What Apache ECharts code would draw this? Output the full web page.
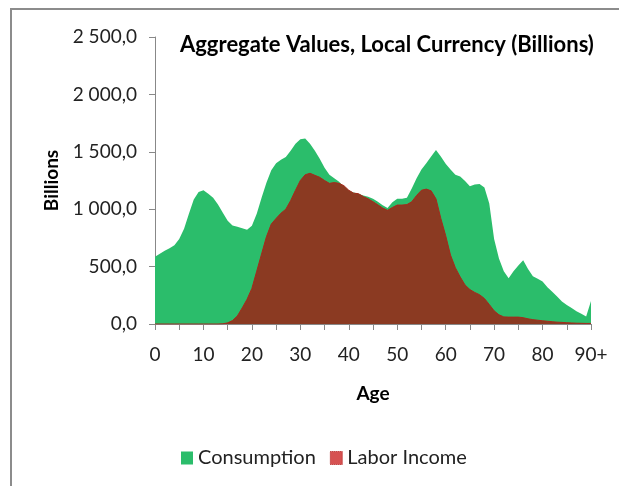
<!DOCTYPE html>
<html><head><meta charset="utf-8">
<script src="https://cdn.jsdelivr.net/npm/echarts@6/dist/echarts.min.js"></script>
<style>html,body{margin:0;padding:0;background:#fff}#c{width:619px;height:486px}</style>
</head><body><div id="c"></div>
<script>
const ages = [];
for (let a = 0; a <= 89; a++) ages.push(String(a));
ages.push('90+');

const consumption = [
  586, 612, 638, 660, 686, 740, 830, 960, 1085, 1150,
  1165, 1135, 1100, 1040, 970, 900, 858, 848, 835, 822,
  855, 960, 1100, 1230, 1340, 1400, 1430, 1455, 1510, 1570,
  1610, 1615, 1570, 1510, 1440, 1360, 1300, 1270, 1240, 1195,
  1160, 1145, 1135, 1120, 1108, 1090, 1065, 1035, 1010, 1060,
  1090, 1092, 1100, 1180, 1270, 1345, 1400, 1460, 1516, 1460,
  1395, 1345, 1300, 1285, 1245, 1200, 1215, 1220, 1190, 1050,
  740, 570, 460, 398, 460, 510, 555, 480, 415, 395,
  370, 320, 280, 240, 195, 165, 140, 110, 90, 65,
  200
];

const laborIncome = [
  0, 0, 0, 0, 0, 0, 0, 0, 0, 0,
  0, 0, 0, 0, 2, 10, 30, 70, 140, 215,
  310, 460, 610, 760, 870, 920, 965, 1000, 1075, 1165,
  1250, 1300, 1313, 1295, 1278, 1250, 1225, 1232, 1225, 1205,
  1165, 1140, 1135, 1110, 1090, 1065, 1038, 1010, 990, 1015,
  1036, 1036, 1040, 1065, 1120, 1165, 1175, 1160, 1090, 920,
  770, 600, 490, 410, 340, 300, 275, 255, 222, 170,
  115, 80, 62, 60, 60, 60, 55, 45, 38, 33,
  28, 24, 20, 16, 14, 11, 9, 7, 6, 5,
  5
];

const yTicks = [0, 500, 1000, 1500, 2000, 2500];

function fmt(v) {
  const s = Math.round(v).toString().replace(/\B(?=(\d{3})+(?!\d))/g, ' ');
  return s + ',0';
}

const FONT = 'Lato';
const chart = echarts.init(document.getElementById('c'), null, {renderer: 'canvas'});
chart.setOption({
  animation: false,
  backgroundColor: '#ffffff',
  graphic: [{
    type: 'rect', shape: {x: 11, y: 9, width: 700, height: 700},
    style: {fill: 'none', stroke: '#8c8c8c', lineWidth: 2}, z: -1
  }],
  title: {
    text: 'Aggregate Values, Local Currency (Billions)',
    left: 175, top: 29,
    textStyle: {fontFamily: FONT, fontWeight: 'bold', fontSize: 22, color: '#000'}
  },
  legend: {
    top: 443, left: 176,
    icon: 'rect', itemWidth: 12, itemHeight: 13, itemGap: 14,
    textStyle: {fontFamily: FONT, fontSize: 20, color: '#222'},
    data: [
      {name: 'Consumption', itemStyle: {color: '#2bbd6b'}},
      {name: 'Labor Income', itemStyle: {color: '#d65252', borderColor: '#b01818', borderWidth: 1, borderType: 'dotted'}}
    ]
  },
  grid: {left: 155, right: 28, top: 37, bottom: 162, containLabel: false},
  xAxis: {
    type: 'category', data: ages, boundaryGap: false,
    name: 'Age', nameLocation: 'middle', nameGap: 60,
    nameTextStyle: {fontFamily: FONT, fontWeight: 'bold', fontSize: 19, color: '#000'},
    axisLine: {lineStyle: {color: '#888', width: 1}},
    axisTick: {interval: 4, length: 6, lineStyle: {color: '#888'}},
    axisLabel: {interval: 9, margin: 21, fontFamily: FONT, fontSize: 19, color: '#222'},
    splitLine: {show: false}
  },
  yAxis: {
    type: 'value', min: 0, max: 2500, interval: 500,
    name: 'Billions', nameLocation: 'middle', nameGap: 94, nameRotate: 90,
    nameTextStyle: {fontFamily: FONT, fontWeight: 'bold', fontSize: 19, color: '#000'},
    axisLine: {show: true, lineStyle: {color: '#888', width: 1}},
    axisTick: {show: true, length: 6, lineStyle: {color: '#888'}},
    axisLabel: {margin: 18, fontFamily: FONT, fontSize: 19, color: '#222', formatter: fmt},
    splitLine: {show: false}
  },
  series: [
    {
      name: 'Consumption', type: 'line', data: consumption,
      symbol: 'none', lineStyle: {width: 0, color: '#2bbd6b'},
      itemStyle: {color: '#2bbd6b'},
      areaStyle: {color: '#2bbd6b', opacity: 1}, z: 2
    },
    {
      name: 'Labor Income', type: 'line', data: laborIncome,
      symbol: 'none', lineStyle: {width: 1, color: '#a52a1c'},
      itemStyle: {color: '#d65252'},
      areaStyle: {color: '#8b3a22', opacity: 1}, z: 3
    }
  ]
});
</script></body></html>
